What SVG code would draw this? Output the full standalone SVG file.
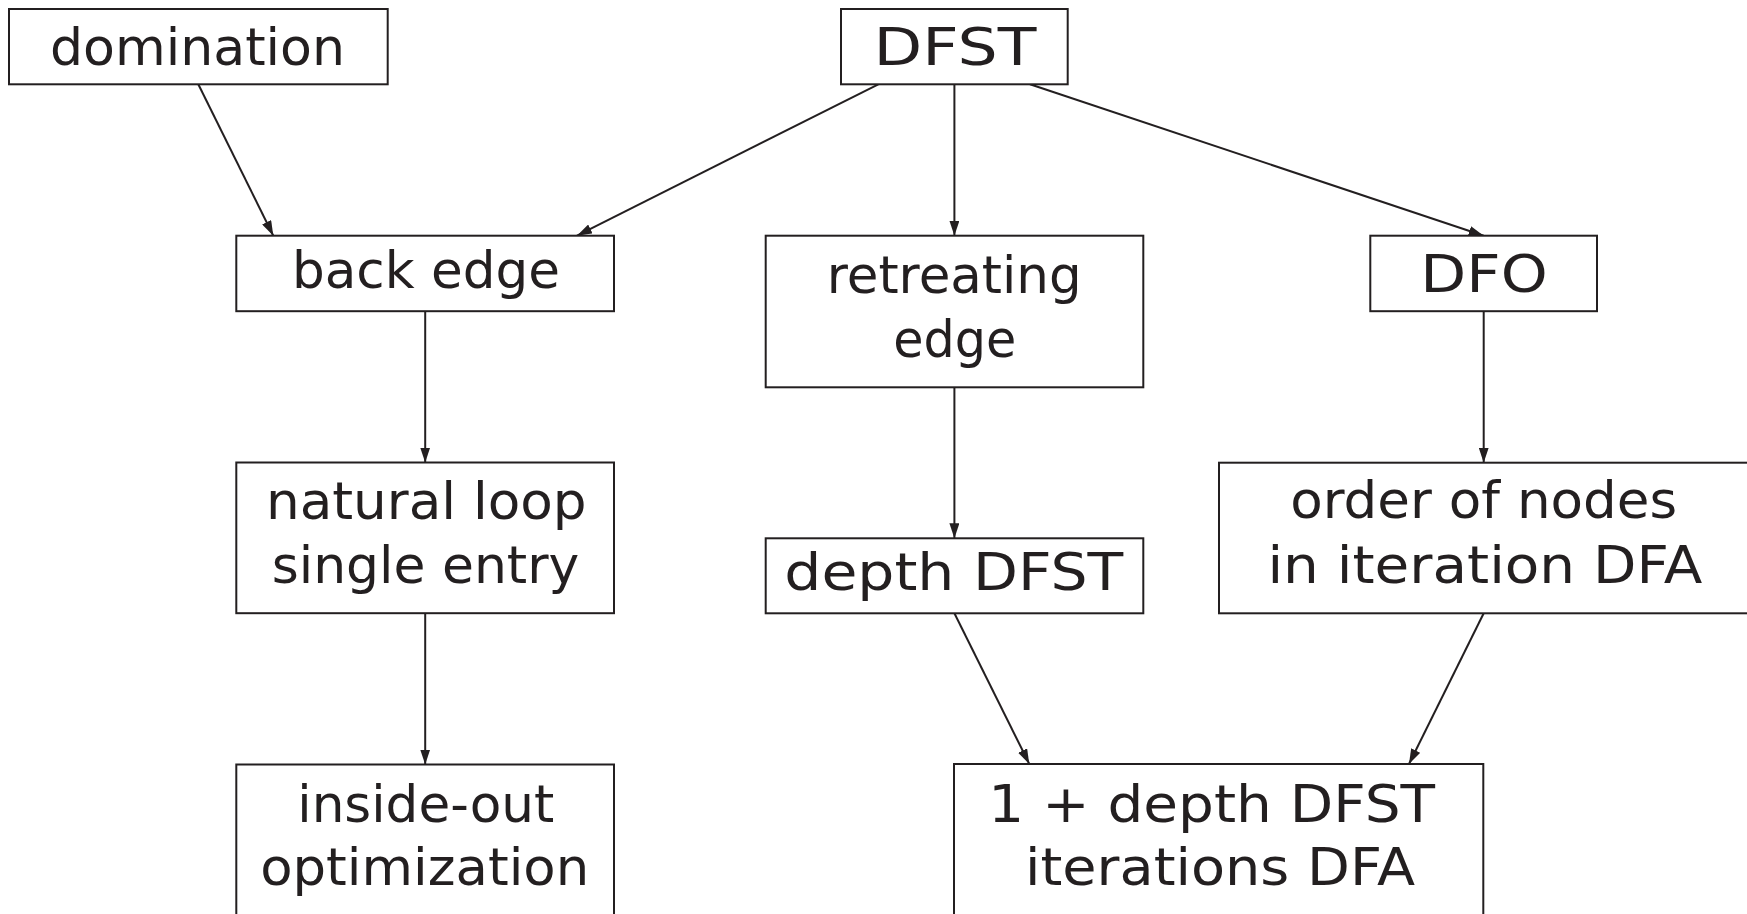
<svg xmlns="http://www.w3.org/2000/svg" width="1747" height="914" viewBox="0 0 1747 914">
<style>
.box{fill:#ffffff;stroke:#231f20;stroke-width:2}
.lbl{font-family:"DejaVu Sans","Liberation Sans",sans-serif;font-size:52px;fill:#231f20;text-anchor:middle}
.edge{fill:none;stroke:#231f20;stroke-width:2;marker-end:url(#arr)}
</style>
<defs>
<marker id="arr" markerUnits="userSpaceOnUse" markerWidth="15" markerHeight="10" refX="15" refY="5" orient="auto" viewBox="0 0 15 10">
<path d="M0,0 L15,5 L0,10 Z" fill="#231f20"/>
</marker>
</defs>
<rect width="1747" height="914" fill="#ffffff"/>
<g id="connectors">
<line class="edge" x1="198.3" y1="84.3" x2="273.3" y2="235.7"/>
<line class="edge" x1="878.3" y1="84.3" x2="577" y2="235.7"/>
<line class="edge" x1="954.4" y1="84.3" x2="954.4" y2="235.7"/>
<line class="edge" x1="1030" y1="84.3" x2="1483.7" y2="235.7"/>
<line class="edge" x1="425.2" y1="311.2" x2="425.2" y2="462.5"/>
<line class="edge" x1="425.2" y1="613.2" x2="425.2" y2="764.5"/>
<line class="edge" x1="954.4" y1="387.3" x2="954.4" y2="538.3"/>
<line class="edge" x1="1483.7" y1="311.2" x2="1483.7" y2="462.7"/>
<line class="edge" x1="954.4" y1="613.3" x2="1029.3" y2="764"/>
<line class="edge" x1="1483.7" y1="613.3" x2="1409" y2="764"/>
</g>
<g id="node-domination">
<rect class="box" x="9" y="9" width="378.7" height="75.3"/>
<text class="lbl" x="197.5" y="65" textLength="295" lengthAdjust="spacingAndGlyphs">domination</text>
</g>
<g id="node-dfst">
<rect class="box" x="841" y="9" width="226.7" height="75.3"/>
<text class="lbl" x="955" y="65" textLength="163" lengthAdjust="spacingAndGlyphs">DFST</text>
</g>
<g id="node-back-edge">
<rect class="box" x="236.3" y="235.7" width="377.7" height="75.5"/>
<text class="lbl" x="426" y="288.3" textLength="268" lengthAdjust="spacingAndGlyphs">back edge</text>
</g>
<g id="node-retreating-edge">
<rect class="box" x="765.7" y="235.7" width="377.6" height="151.6"/>
<text class="lbl" x="954.2" y="293.3" textLength="255" lengthAdjust="spacingAndGlyphs">retreating</text>
<text class="lbl" x="954.7" y="356.5" textLength="123" lengthAdjust="spacingAndGlyphs">edge</text>
</g>
<g id="node-dfo">
<rect class="box" x="1370.3" y="235.7" width="226.7" height="75.5"/>
<text class="lbl" x="1484" y="291.7" textLength="127.4" lengthAdjust="spacingAndGlyphs">DFO</text>
</g>
<g id="node-natural-loop">
<rect class="box" x="236.3" y="462.5" width="377.7" height="150.7"/>
<text class="lbl" x="426.3" y="519.3" textLength="320.7" lengthAdjust="spacingAndGlyphs">natural loop</text>
<text class="lbl" x="425.5" y="582.7" textLength="307.7" lengthAdjust="spacingAndGlyphs">single entry</text>
</g>
<g id="node-depth-dfst">
<rect class="box" x="765.7" y="538.3" width="377.6" height="75"/>
<text class="lbl" x="953.8" y="590" textLength="339" lengthAdjust="spacingAndGlyphs">depth DFST</text>
</g>
<g id="node-order">
<rect class="box" x="1219" y="462.7" width="529.4" height="150.6"/>
<text class="lbl" x="1483.7" y="518.3" textLength="387" lengthAdjust="spacingAndGlyphs">order of nodes</text>
<text class="lbl" x="1484.9" y="582.7" textLength="435" lengthAdjust="spacingAndGlyphs">in iteration DFA</text>
</g>
<g id="node-inside-out">
<rect class="box" x="236.3" y="764.5" width="377.7" height="151.6"/>
<text class="lbl" x="425.8" y="821.9" textLength="257" lengthAdjust="spacingAndGlyphs">inside-out</text>
<text class="lbl" x="424.7" y="885.4" textLength="329" lengthAdjust="spacingAndGlyphs">optimization</text>
</g>
<g id="node-iterations">
<rect class="box" x="954" y="764" width="529.3" height="151.6"/>
<text class="lbl" x="1211.7" y="821.7" textLength="446.7" lengthAdjust="spacingAndGlyphs">1 + depth DFST</text>
<text class="lbl" x="1220" y="885" textLength="390" lengthAdjust="spacingAndGlyphs">iterations DFA</text>
</g>
</svg>
